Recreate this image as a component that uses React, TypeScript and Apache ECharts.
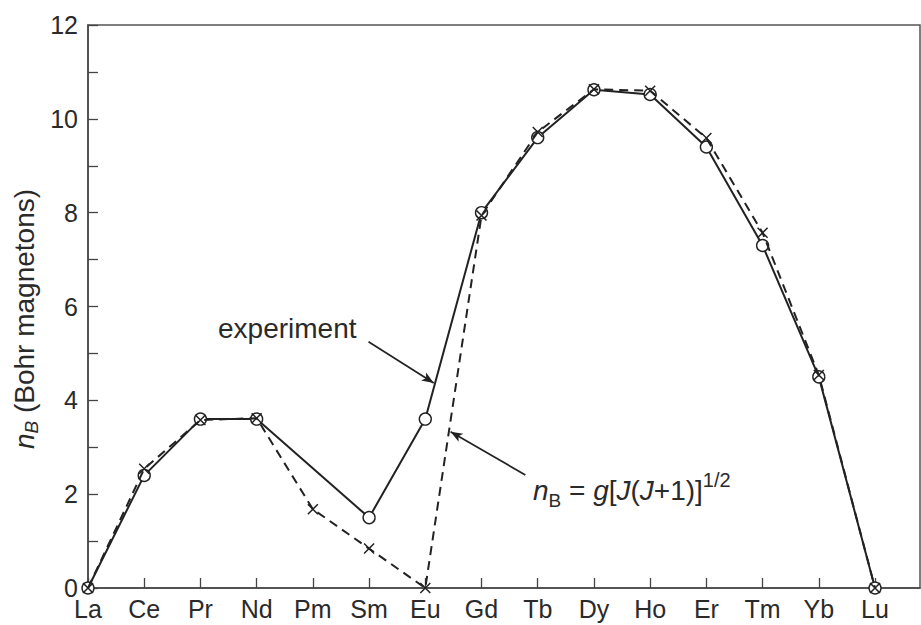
import React, { useEffect, useRef } from "react";
import * as echarts from "echarts";

const categories = ["La", "Ce", "Pr", "Nd", "Pm", "Sm", "Eu", "Gd", "Tb", "Dy", "Ho", "Er", "Tm", "Yb", "Lu"];
const experiment: (number | null)[] = [0, 2.4, 3.6, 3.6, null, 1.5, 3.6, 8.0, 9.6, 10.62, 10.52, 9.4, 7.3, 4.5, 0];
const theory: number[] = [0, 2.54, 3.58, 3.62, 1.68, 0.84, 0, 7.94, 9.72, 10.63, 10.6, 9.59, 7.57, 4.54, 0];
const yTicks = [0, 2, 4, 6, 8, 10, 12];

// annotation arrows in data coordinates [x index, y value]
const expArrow = [[4.99, 5.25], [6.15, 4.37]];
const theoryArrow = [[7.78, 2.41], [6.45, 3.33]];

const FONT = "Liberation Sans, Arial, Helvetica, sans-serif";
const INK = "#222";
const TXT = "#2a2a2a";

export default function App() {
  const ref = useRef<HTMLDivElement>(null);
  useEffect(() => {
    if (!ref.current) return;
    const chart = echarts.init(ref.current, undefined, { renderer: "svg" });
    const expData = categories
      .map((_, i) => [i, experiment[i]])
      .filter((d) => d[1] !== null);
    const thData = categories.map((_, i) => [i, theory[i]]);
    chart.setOption({
      animation: false,
      backgroundColor: "#fff",
      grid: {
        left: 88,
        right: 1,
        top: 25,
        bottom: 37,
        show: true,
        borderColor: "#555",
        borderWidth: 1.5,
      },
      xAxis: {
        type: "value",
        min: 0,
        max: 14.8,
        interval: 1,
        axisLine: { lineStyle: { color: "#444", width: 1.5 } },
        axisTick: { inside: true, length: 10, lineStyle: { color: "#444", width: 1.3 } },
        splitLine: { show: false },
        axisLabel: {
          color: TXT,
          fontFamily: FONT,
          fontSize: 25,
          margin: 8,
          showMaxLabel: false,
          formatter: (v: number) => categories[Math.round(v)] ?? "",
        },
      },
      yAxis: {
        type: "value",
        min: 0,
        max: 12,
        interval: 1,
        axisLine: { show: true, lineStyle: { color: "#444", width: 1.5 } },
        axisTick: { show: true, inside: true, length: 10, lineStyle: { color: "#444", width: 1.3 } },
        splitLine: { show: false },
        axisLabel: {
          color: TXT,
          fontFamily: FONT,
          fontSize: 25,
          margin: 10,
          formatter: (v: number) => (yTicks.includes(v) ? String(v) : ""),
        },
      },
      series: [
        {
          type: "line",
          name: "experiment",
          data: expData,
          z: 3,
          symbol: "circle",
          symbolSize: 12,
          lineStyle: { color: INK, width: 2 },
          itemStyle: { color: "#fff", borderColor: INK, borderWidth: 1.4 },
          emphasis: { disabled: true },
          markLine: {
            silent: true,
            symbol: ["none", "arrow"],
            symbolSize: [7, 12],
            label: { show: false },
            lineStyle: { color: INK, width: 1.7, type: "solid" },
            data: [
              [{ coord: expArrow[0] }, { coord: expArrow[1] }],
              [{ coord: theoryArrow[0] }, { coord: theoryArrow[1] }],
            ],
          },
        },
        {
          type: "line",
          name: "theory",
          data: thData,
          z: 4,
          symbol: "path://M0,0L10,10M0,10L10,0",
          symbolSize: 10,
          lineStyle: { color: INK, width: 2, type: [9, 6] },
          itemStyle: { color: "none", borderColor: INK, borderWidth: 1.5 },
          emphasis: { disabled: true },
        },
      ],
      graphic: [
        {
          type: "text",
          left: 218,
          top: 314,
          style: {
            text: "experiment",
            fontFamily: FONT,
            fontSize: 28,
            fill: TXT,
          },
        },
        {
          type: "text",
          left: 533,
          top: 468,
          style: {
            text: "{i|n}{sub|B}{t| = }{i|g}{t|[}{i|J}{t|(}{i|J}{t|+1)]}{sup|1/2}",
            fontFamily: FONT,
            fill: TXT,
            rich: {
              i: { fontFamily: FONT, fontSize: 28, fontStyle: "italic", fill: TXT, lineHeight: 44 },
              t: { fontFamily: FONT, fontSize: 28, fill: TXT, lineHeight: 44 },
              sub: { fontFamily: FONT, fontSize: 19, fill: TXT, verticalAlign: "bottom", lineHeight: 44, padding: [0, 0, 2, 0] },
              sup: { fontFamily: FONT, fontSize: 20, fill: TXT, verticalAlign: "top", lineHeight: 44, padding: [2, 0, 0, 0] },
            },
          },
        },
        {
          type: "text",
          x: 24,
          y: 319,
          rotation: Math.PI / 2,
          style: {
            text: "{i|n}{sub|B}{t| (Bohr magnetons)}",
            align: "center",
            verticalAlign: "middle",
            fontFamily: FONT,
            fill: TXT,
            rich: {
              i: { fontFamily: FONT, fontSize: 28, fontStyle: "italic", fill: TXT, lineHeight: 38 },
              t: { fontFamily: FONT, fontSize: 28, fill: TXT, lineHeight: 38 },
              sub: { fontFamily: FONT, fontSize: 19, fontStyle: "italic", fill: TXT, verticalAlign: "bottom", lineHeight: 38, padding: [0, 0, 2, 0] },
            },
          },
        },
      ],
    });
    return () => chart.dispose();
  }, []);
  return (
    <div
      ref={ref}
      style={{ position: "fixed", left: 0, top: 0, width: 921, height: 625 }}
    />
  );
}
